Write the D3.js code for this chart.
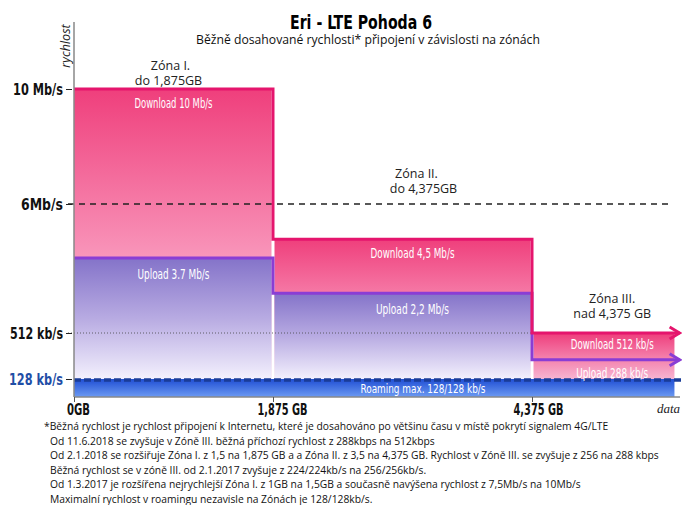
<!DOCTYPE html>
<html>
<head>
<meta charset="utf-8">
<script src="https://cdn.jsdelivr.net/npm/d3@7"></script>
<style>
  body { margin: 0; background: #fff; }
  svg { display: block; }
  text.narrow { font-family: "DejaVu Sans Condensed", "DejaVu Sans", sans-serif; font-stretch: condensed; }
  text.plain, text.plain tspan { font-family: "Open Sans", "DejaVu Sans", sans-serif; }
</style>
</head>
<body>
<div id="chart"></div>
<script>
/* DATA */
const zones = ["Zóna I.", "Zóna II.", "Zóna III."];
const zoneLimits = ["do 1,875GB", "do 4,375GB", "nad 4,375 GB"];
const zoneFrom = [0, 1.875, 4.375];
const zoneTo = [1.875, 4.375, 5.75];
const download = [10, 4.5, 0.512];
const upload = [3.7, 2.2, 0.288];
const downloadLabels = ["Download 10 Mb/s", "Download 4,5 Mb/s", "Download 512 kb/s"];
const uploadLabels = ["Upload 3.7 Mb/s", "Upload 2,2 Mb/s", "Upload 288 kb/s"];
const roaming = 0.128;
const roamingLabel = "Roaming max. 128/128 kb/s";
const speedTicks = [10, 6, 0.512, 0.128];
const speedTickLabels = ["10 Mb/s", "6Mb/s", "512 kb/s", "128 kb/s"];
const dataTicks = [0, 1.875, 4.375];
const dataTickLabels = ["0GB", "1,875 GB", "4,375 GB"];
const notes = [
  "*Běžná rychlost je rychlost připojení k Internetu, které je dosahováno po většinu času v místě pokrytí signalem 4G/LTE",
  "Od 11.6.2018 se zvyšuje v Zóně III. běžná příchozí rychlost z 288kbps na 512kbps",
  "Od 2.1.2018 se rozšiřuje Zóna I. z 1,5 na 1,875 GB a a Zóna II. z 3,5 na 4,375 GB. Rychlost  v Zóně III. se zvyšuje z 256 na 288 kbps",
  "Běžná rychlost se v zóně III. od 2.1.2017 zvyšuje z 224/224kb/s  na 256/256kb/s.",
  "Od 1.3.2017 je rozšířena nejrychlejší Zóna I. z 1GB na 1,5GB a současně navýšena rychlost z 7,5Mb/s na 10Mb/s",
  "Maximalní rychlost v roamingu nezavisle na Zónách je 128/128kb/s."
];

/* LAYOUT */
const width = 689, height = 505;
const arrowEnd = 5.8;
// widths the condensed labels are squeezed to
const speedLabelWidth = [50, 42, 53, 54];
const dataLabelWidth = [23, 50, 50];
const dlLabelWidth = [78, 84, 83];
const ulLabelWidth = [72, 73, 72];
const labelShift = [0, 10, 9];

// the picture is not to scale, so both axes are piecewise between their ticks
const x = d3.scaleLinear().domain([0, 1.875, 4.375]).range([74, 273, 532]);
const y = d3.scaleLinear().domain([0, 0.128, 0.512, 6, 10]).range([397, 379, 333, 204, 89]);

const svg = d3.select("#chart").append("svg")
  .attr("width", width)
  .attr("height", height);

svg.append("rect").attr("width", width).attr("height", height).attr("fill", "#fff");

// gradients
const defs = svg.append("defs");
function vGrad(id, stops) {
  const g = defs.append("linearGradient").attr("id", id)
    .attr("x1", 0).attr("y1", 0).attr("x2", 0).attr("y2", 1);
  stops.forEach(s => g.append("stop").attr("offset", s[0]).attr("stop-color", s[1]));
}
vGrad("dlGrad", [[0, "#ef3f7c"], [0.55, "#f891b7"], [1, "#fde0ea"]]);
vGrad("dlGrad3", [[0, "#ee3d7b"], [0.5, "#f47ba8"], [1, "#f7b4d1"]]);
vGrad("ulGrad", [[0, "#8473c9"], [0.5, "#b8abe2"], [1, "#f3f0fd"]]);
vGrad("roamGrad", [[0, "#1f4ed4"], [1, "#6c9af2"]]);

function arrowMarker(id, color) {
  defs.append("marker").attr("id", id)
    .attr("markerUnits", "userSpaceOnUse")
    .attr("viewBox", "-12 -8 14 16")
    .attr("refX", 0).attr("refY", 0)
    .attr("markerWidth", 14).attr("markerHeight", 16)
    .attr("orient", "auto")
    .append("path")
    .attr("d", "M-10,-6 L0,0 L-10,6")
    .attr("fill", "none")
    .attr("stroke", color)
    .attr("stroke-width", 3);
}
arrowMarker("arrowPink", "#e5156d");
arrowMarker("arrowPurple", "#8a3dd4");

/* DOWNLOAD / UPLOAD AREAS */
const zoneIdx = d3.range(zones.length);

svg.selectAll(".dl")
  .data(zoneIdx)
  .join("rect")
  .attr("class", "dl")
  .attr("x", i => x(zoneFrom[i]) + (i ? 1.5 : 0))
  .attr("width", i => x(zoneTo[i]) - x(zoneFrom[i]) - (i ? 1.5 : 0) - (i < 2 ? 1.5 : 0))
  .attr("y", i => y(download[i]))
  .attr("height", i => y(roaming) - y(download[i]))
  .attr("fill", i => i < 2 ? "url(#dlGrad)" : "url(#dlGrad3)");

svg.selectAll(".ul")
  .data(zoneIdx.filter(i => i < 2))
  .join("rect")
  .attr("class", "ul")
  .attr("x", i => x(zoneFrom[i]) + (i ? 1.5 : 0))
  .attr("width", i => x(zoneTo[i]) - x(zoneFrom[i]) - (i ? 1.5 : 0) - 1.5)
  .attr("y", i => y(upload[i]))
  .attr("height", i => y(roaming) - y(upload[i]))
  .attr("fill", "url(#ulGrad)");

/* REFERENCE LINES */
svg.append("line")
  .attr("x1", 68).attr("x2", 672)
  .attr("y1", y(6)).attr("y2", y(6))
  .attr("stroke", "#222").attr("stroke-width", 1.3)
  .attr("stroke-dasharray", "6,5");

svg.append("line")
  .attr("x1", 68).attr("x2", x(4.375))
  .attr("y1", y(0.512)).attr("y2", y(0.512))
  .attr("stroke", "#444").attr("stroke-width", 0.8)
  .attr("stroke-dasharray", "1,2");

/* STEP OUTLINES */
const step = d3.line()
  .x(d => x(d[0]))
  .y(d => y(d[1]))
  .curve(d3.curveStepAfter);

const dlSteps = zoneFrom.map((f, i) => [f, download[i]]).concat([[arrowEnd, download[2]]]);
const ulSteps = zoneFrom.map((f, i) => [f, upload[i]]).concat([[arrowEnd, upload[2]]]);

svg.append("path")
  .attr("d", step(ulSteps))
  .attr("fill", "none")
  .attr("stroke", "#8a3dd4")
  .attr("stroke-width", 3)
  .attr("marker-end", "url(#arrowPurple)");

svg.append("path")
  .attr("d", step(dlSteps))
  .attr("fill", "none")
  .attr("stroke", "#e5156d")
  .attr("stroke-width", 3)
  .attr("marker-end", "url(#arrowPink)");

/* ROAMING BAND */
svg.append("rect")
  .attr("x", x(0))
  .attr("width", x(zoneTo[2]) - x(0))
  .attr("y", y(roaming))
  .attr("height", y(0) - y(roaming))
  .attr("fill", "url(#roamGrad)");

svg.append("line")
  .attr("x1", x(0)).attr("x2", 684)
  .attr("y1", y(roaming) + 1).attr("y2", y(roaming) + 1)
  .attr("stroke", "#1a3c98").attr("stroke-width", 3.5)
  .attr("stroke-dasharray", "7,3");

/* AXES */
svg.append("line")
  .attr("x1", x(0)).attr("x2", x(0))
  .attr("y1", 22).attr("y2", y(0))
  .attr("stroke", "#888").attr("stroke-width", 1.5);

svg.append("line")
  .attr("x1", x(0)).attr("x2", 680)
  .attr("y1", y(0)).attr("y2", y(0))
  .attr("stroke", "#888").attr("stroke-width", 1.5);

const yAxis = d3.axisLeft(y)
  .tickValues(speedTicks)
  .tickFormat((d, i) => speedTickLabels[i])
  .tickSize(6)
  .tickPadding(3);

const yAxisGroup = svg.append("g")
  .attr("transform", `translate(${x(0) - 2}, 0)`)
  .call(yAxis);
yAxisGroup.select(".domain").remove();
yAxisGroup.selectAll(".tick line").attr("stroke", "#222");
yAxisGroup.selectAll(".tick text")
  .attr("class", "narrow")
  .attr("font-size", 16.5)
  .attr("font-weight", "bold")
  .attr("textLength", (d, i) => speedLabelWidth[i])
  .attr("lengthAdjust", "spacingAndGlyphs")
  .attr("fill", (d, i) => i === speedTicks.length - 1 ? "#1f4ea6" : "#111");

const xAxis = d3.axisBottom(x)
  .tickValues(dataTicks)
  .tickFormat((d, i) => dataTickLabels[i])
  .tickSize(5)
  .tickPadding(2);

const xAxisGroup = svg.append("g")
  .attr("transform", `translate(0, ${y(0)})`)
  .call(xAxis);
xAxisGroup.select(".domain").remove();
xAxisGroup.selectAll(".tick line").attr("stroke", "#555");
xAxisGroup.selectAll(".tick text")
  .attr("class", "narrow")
  .attr("font-size", 15.5)
  .attr("font-weight", "bold")
  .attr("textLength", (d, i) => dataLabelWidth[i])
  .attr("lengthAdjust", "spacingAndGlyphs")
  .attr("fill", "#111")
  .attr("dx", (d, i) => [4, 9, 6][i]);

svg.append("text")
  .attr("class", "plain")
  .attr("transform", `translate(70, 46) rotate(-90)`)
  .attr("text-anchor", "middle")
  .attr("font-size", 12.5)
  .attr("font-style", "italic")
  .attr("fill", "#222")
  .text("rychlost");

svg.append("text")
  .attr("x", 680).attr("y", 413)
  .attr("text-anchor", "end")
  .attr("font-family", "Liberation Serif, serif")
  .attr("font-style", "italic")
  .attr("font-size", 13)
  .attr("fill", "#222")
  .text("data");

/* TITLES */
svg.append("text")
  .attr("class", "narrow")
  .attr("x", 361).attr("y", 29)
  .attr("text-anchor", "middle")
  .attr("font-size", 20)
  .attr("font-weight", "bold")
  .attr("textLength", 142)
  .attr("lengthAdjust", "spacingAndGlyphs")
  .attr("fill", "#000")
  .text("Eri - LTE Pohoda 6");

svg.append("text")
  .attr("class", "plain")
  .attr("x", 368).attr("y", 44)
  .attr("text-anchor", "middle")
  .attr("font-size", 12.2)
  .attr("fill", "#111")
  .text("Běžně dosahované rychlosti* připojení v závislosti na zónách");

/* ZONE LABELS */
const zoneLabelY = [70, 178, 303];
const zoneCenter = i => (x(zoneFrom[i]) + x(zoneTo[i])) / 2;

svg.selectAll(".zone")
  .data(zoneIdx)
  .join("text")
  .attr("class", "zone plain")
  .attr("x", i => zoneCenter(i) + [-3, 14, 9][i])
  .attr("y", i => zoneLabelY[i])
  .attr("font-size", 12.5)
  .attr("fill", "#222")
  .attr("text-anchor", "middle")
  .text(i => zones[i]);

svg.selectAll(".zoneLimit")
  .data(zoneIdx)
  .join("text")
  .attr("class", "zoneLimit plain")
  .attr("x", i => zoneCenter(i) + [-5, 21, 9][i])
  .attr("y", i => zoneLabelY[i] + 15)
  .attr("font-size", 12.5)
  .attr("fill", "#222")
  .attr("text-anchor", "middle")
  .text(i => zoneLimits[i]);

/* IN-BAR LABELS */
svg.selectAll(".dlLabel")
  .data(zoneIdx)
  .join("text")
  .attr("class", "dlLabel narrow")
  .attr("x", i => zoneCenter(i) + labelShift[i])
  .attr("y", i => y(download[i]) + (i < 2 ? 19 : 16))
  .attr("text-anchor", "middle")
  .attr("font-size", 13.5)
  .attr("textLength", i => dlLabelWidth[i])
  .attr("lengthAdjust", "spacingAndGlyphs")
  .attr("fill", "#fff")
  .text(i => downloadLabels[i]);

svg.selectAll(".ulLabel")
  .data(zoneIdx)
  .join("text")
  .attr("class", "ulLabel narrow")
  .attr("x", i => zoneCenter(i) + labelShift[i])
  .attr("y", i => y(upload[i]) + (i < 2 ? 21 : 18))
  .attr("text-anchor", "middle")
  .attr("font-size", 13.5)
  .attr("textLength", i => ulLabelWidth[i])
  .attr("lengthAdjust", "spacingAndGlyphs")
  .attr("fill", "#fff")
  .text(i => uploadLabels[i]);

svg.append("text")
  .attr("class", "narrow")
  .attr("x", 423)
  .attr("y", y(0) - 4)
  .attr("text-anchor", "middle")
  .attr("font-size", 13)
  .attr("textLength", 125)
  .attr("lengthAdjust", "spacingAndGlyphs")
  .attr("fill", "#fff")
  .text(roamingLabel);

/* FOOTNOTES */
svg.append("g")
  .selectAll("text")
  .data(notes)
  .join("text")
  .attr("class", "plain")
  .attr("x", (d, i) => i === 0 ? 44 : 50)
  .attr("y", (d, i) => 430 + i * 14.6)
  .attr("font-size", 10.3)
  .attr("fill", "#111")
  .text(d => d);
</script>
</body>
</html>
